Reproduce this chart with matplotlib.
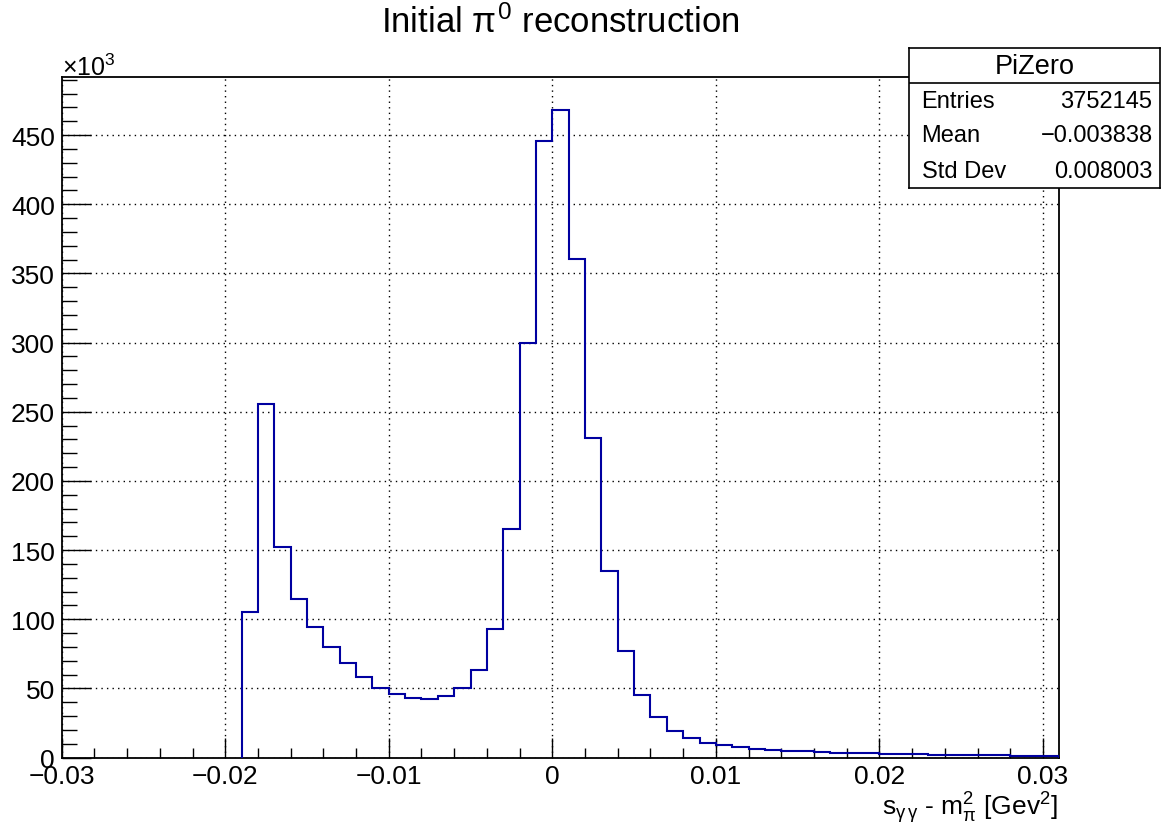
import numpy as np
import matplotlib
matplotlib.use("Agg")
import matplotlib.pyplot as plt
from matplotlib.ticker import MultipleLocator, FixedLocator

plt.rcParams['font.family'] = ['Liberation Sans', 'DejaVu Sans']
plt.rcParams['mathtext.fontset'] = 'custom'
plt.rcParams['mathtext.rm'] = 'Liberation Sans'
plt.rcParams['mathtext.it'] = 'Liberation Sans'
plt.rcParams['mathtext.bf'] = 'Liberation Sans:bold'

# histogram: 50 bins of width 0.001 starting at -0.019, counts in units of 10^3
bin_lo = -0.019
bin_width = 0.001
counts_k = [105.3, 255.9, 152.3, 114.8, 94.1, 79.6, 68.0, 57.9, 50.2, 46.1,
            42.8, 42.6, 44.8, 50.0, 63.5, 93.2, 165.0, 300.0, 445.7, 468.3,
            360.2, 231.1, 134.9, 76.8, 45.5, 29.1, 19.4, 14.3, 10.7, 9.0,
            7.6, 6.4, 5.7, 4.9, 4.4, 4.0, 3.6, 3.3, 3.0, 2.7,
            2.5, 2.3, 2.1, 1.9, 1.8, 1.6, 1.5, 1.4, 1.3, 1.2]

x_ticks = [-0.03, -0.02, -0.01, 0.0, 0.01, 0.02, 0.03]
x_ticklabels = ["\u22120.03", "\u22120.02", "\u22120.01", "0", "0.01", "0.02", "0.03"]
y_ticks = [0, 50, 100, 150, 200, 250, 300, 350, 400, 450]

stats_name = "PiZero"
stats_rows = [("Entries", "3752145"), ("Mean", "\u22120.003838"), ("Std Dev", "0.008003")]

W, H = 1174, 829
fig = plt.figure(figsize=(W / 100, H / 100), dpi=100)
fig.patch.set_facecolor('white')

# axes frame in pixel units
L, R, T, B = 61.7, 1059.3, 78.3, 758.5
ax = fig.add_axes([L / W, 1 - B / H, (R - L) / W, (B - T) / H])

edges = bin_lo + bin_width * np.arange(len(counts_k) + 1)
ax.stairs(counts_k, edges, baseline=0, color='#0000a0', lw=1.5, zorder=3)

ax.set_xlim(-0.03, 0.031)
ax.set_ylim(0, 1.05 * max(counts_k))

ax.xaxis.set_major_locator(FixedLocator(x_ticks))
ax.set_xticklabels(x_ticklabels)
ax.xaxis.set_minor_locator(MultipleLocator(0.002))
ax.yaxis.set_major_locator(FixedLocator(y_ticks))
ax.yaxis.set_minor_locator(MultipleLocator(10))

ax.tick_params(axis='both', which='both', direction='in', top=False, right=False,
               labelsize=19, width=1, color='black')
ax.tick_params(axis='x', which='major', length=14.4, pad=5)
ax.tick_params(axis='x', which='minor', length=7.2)
ax.tick_params(axis='y', which='major', length=21, pad=5)
ax.tick_params(axis='y', which='minor', length=10.8)

ax.grid(True, which='major', color='black', linestyle=(0, (1, 3)), lw=1)
for s in ax.spines.values():
    s.set_linewidth(1.3)

fig.text(560 / W, 1 - 23 / H, r"Initial $\pi^{0}$ reconstruction", fontsize=25,
         ha='center', va='center')
fig.text(L / W, 1 - 76 / H, r"$\times$10$^{3}$", fontsize=18, ha='left', va='baseline')
fig.text(1058 / W, 1 - 815 / H, r"s$_{\gamma\,\gamma}$ - m$_{\pi}^{2}$ [Gev$^{2}$]",
         fontsize=19, ha='right', va='baseline')

# stats box
bx0, bx1, by0, by1 = 909, 1160, 49, 189
sax = fig.add_axes([bx0 / W, 1 - by1 / H, (bx1 - bx0) / W, (by1 - by0) / H])
sax.set_facecolor('white')
sax.set_xticks([])
sax.set_yticks([])
for s in sax.spines.values():
    s.set_linewidth(1.2)
sax.set_xlim(0, 1)
sax.set_ylim(0, 4)
sax.axhline(3, color='black', lw=1.2)
sax.text(0.5, 3.5, stats_name, fontsize=19.5, ha='center', va='center')
for i, (lab, val) in enumerate(stats_rows):
    yc = 2.5 - i
    sax.text(0.05, yc, lab, fontsize=17, ha='left', va='center')
    sax.text(0.97, yc, val, fontsize=17, ha='right', va='center')

fig.savefig("out.png", dpi=100)
